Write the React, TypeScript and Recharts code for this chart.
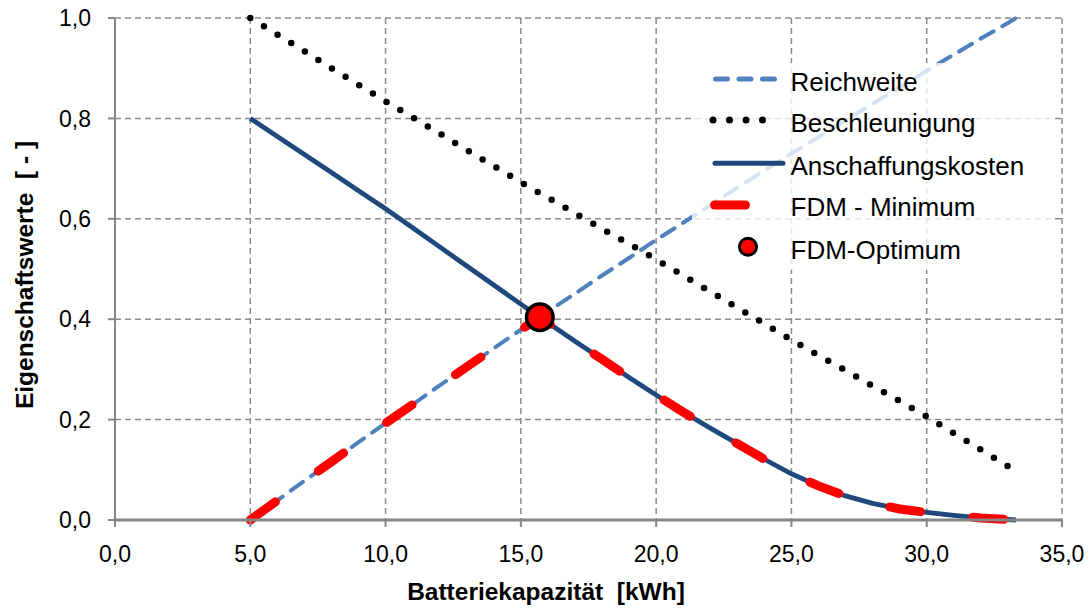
import React from "react";
import {
  ComposedChart,
  Line,
  Scatter,
  XAxis,
  YAxis,
  CartesianGrid,
} from "recharts";

const FONT = '"Liberation Sans", Arial, Helvetica, sans-serif';

// Batteriekapazität [kWh]
const kapazitaet = [
  5, 6, 7, 8, 9, 10, 11, 12, 13, 14, 15, 15.7, 16, 17, 18, 19, 20, 21, 22, 23,
  24, 25, 26, 27, 28, 29, 30, 31, 32, 33, 33.3,
];

const reichweite = [
  0, 0.039, 0.078, 0.116, 0.155, 0.193, 0.23, 0.268, 0.305, 0.342, 0.379, 0.404,
  0.415, 0.451, 0.487, 0.522, 0.558, 0.592, 0.627, 0.662, 0.696, 0.73, 0.763,
  0.796, 0.829, 0.862, 0.895, 0.927, 0.959, 0.99, 1.0,
];

const beschleunigung = [
  1.0, 0.967, 0.934, 0.9, 0.867, 0.834, 0.802, 0.77, 0.737, 0.705, 0.673, 0.651,
  0.642, 0.611, 0.58, 0.55, 0.519, 0.487, 0.455, 0.423, 0.391, 0.359, 0.328,
  0.298, 0.267, 0.237, 0.206, 0.173, 0.14, 0.107, null,
];

const anschaffungskosten = [
  0.8, 0.764, 0.728, 0.692, 0.656, 0.62, 0.582, 0.544, 0.506, 0.468, 0.43, 0.404,
  0.393, 0.356, 0.32, 0.284, 0.249, 0.215, 0.183, 0.152, 0.121, 0.092, 0.068,
  0.048, 0.033, 0.022, 0.015, 0.009, 0.004, 0.001, 0,
];

const fdmMinimum = [
  0, 0.039, 0.078, 0.116, 0.155, 0.193, 0.23, 0.268, 0.305, 0.342, 0.379, 0.404,
  0.393, 0.356, 0.32, 0.284, 0.249, 0.215, 0.183, 0.152, 0.121, 0.092, 0.068,
  0.048, 0.033, 0.022, 0.015, 0.009, 0.004, 0.001, 0,
];

const optimumX = [15.7];
const optimumY = [0.404];

const xTicks = [0, 5, 10, 15, 20, 25, 30, 35];
const yTicks = [0, 0.2, 0.4, 0.6, 0.8, 1.0];

const legendItems = [
  "Reichweite",
  "Beschleunigung",
  "Anschaffungskosten",
  "FDM - Minimum",
  "FDM-Optimum",
];

const data = kapazitaet.map((x, i) => ({
  x,
  reichweite: reichweite[i],
  beschleunigung: beschleunigung[i],
  anschaffungskosten: anschaffungskosten[i],
  fdmMinimum: fdmMinimum[i],
}));

const optimumData = optimumX.map((x, i) => ({ x, y: optimumY[i] }));

const fmt = (v: number) => v.toFixed(1).replace(".", ",");

const XTitle = () => (
  <text
    x={546}
    y={600}
    textAnchor="middle"
    fontFamily={FONT}
    fontWeight="bold"
    fontSize={24.5}
    fill="#000"
  >
    {"Batteriekapazität\u00A0 [kWh]"}
  </text>
);

const YTitle = () => (
  <text
    x={24}
    y={275}
    transform="rotate(-90, 24, 275)"
    textAnchor="middle"
    dominantBaseline="central"
    fontFamily={FONT}
    fontWeight="bold"
    fontSize={24.5}
    fill="#000"
  >
    {"Eigenschaftswerte\u00A0 [ - ]"}
  </text>
);

const OptimumDot = (props: any) => (
  <circle cx={props.cx} cy={props.cy} r={13.3} fill="#ff0000" stroke="#000" strokeWidth={3.5} />
);

function LegendBox() {
  const rowY = [18.7, 60, 103, 143.7, 187];
  return (
    <div
      style={{
        position: "absolute",
        left: 692,
        top: 63,
        width: 363,
        height: 207,
        background: "rgba(255,255,255,0.78)",
      }}
    >
      <svg width={363} height={207}>
        <line x1={23.5} y1={16} x2={82.5} y2={16} stroke="#4F81BD" strokeWidth={5} strokeDasharray="12 11.5" strokeLinecap="round" />
        <line x1={21} y1={57} x2={87} y2={57} stroke="#000" strokeWidth={7} strokeDasharray="0 16.5" strokeLinecap="round" />
        <line x1={23} y1={100.3} x2={91} y2={100.3} stroke="#1F497D" strokeWidth={5} strokeLinecap="round" />
        <line x1={22.5} y1={142} x2={53.5} y2={142} stroke="#ff0000" strokeWidth={9} strokeLinecap="round" />
        <circle cx={56} cy={183.7} r={8.5} fill="#ff0000" stroke="#000" strokeWidth={3} />
        {legendItems.map((t, i) => (
          <text
            key={t}
            x={98.5}
            y={rowY[i]}
            dominantBaseline="central"
            fontFamily={FONT}
            fontSize={26}
            fill="#000"
          >
            {t}
          </text>
        ))}
      </svg>
    </div>
  );
}

export default function App() {
  return (
    <div
      style={{
        position: "absolute",
        left: 0,
        top: 0,
        width: 1090,
        height: 608,
        background: "#fff",
        fontFamily: FONT,
      }}
    >
      <ComposedChart
        width={1090}
        height={608}
        data={data}
        margin={{ top: 18, right: 28, left: 0, bottom: 0 }}
      >
        <CartesianGrid stroke="#8a8a8a" strokeWidth={1.5} strokeDasharray="6 4" />
        <XAxis
          dataKey="x"
          type="number"
          domain={[0, 35]}
          ticks={xTicks}
          tickFormatter={fmt}
          height={88}
          axisLine={{ stroke: "#868686", strokeWidth: 3 }}
          tickLine={{ stroke: "#868686", strokeWidth: 2 }}
          tickSize={7}
          tickMargin={19}
          tick={{ fontSize: 23, fill: "#000", fontFamily: FONT }}
          label={<XTitle />}
        />
        <YAxis
          type="number"
          domain={[0, 1]}
          ticks={yTicks}
          tickFormatter={fmt}
          width={115}
          axisLine={{ stroke: "#868686", strokeWidth: 2 }}
          tickLine={{ stroke: "#868686", strokeWidth: 2 }}
          tickSize={7}
          tickMargin={17}
          tick={{ fontSize: 23, fill: "#000", fontFamily: FONT }}
          label={<YTitle />}
        />
        <Line
          dataKey="reichweite"
          type="linear"
          stroke="#4F81BD"
          strokeWidth={4}
          strokeDasharray="15 10"
          strokeLinecap="round"
          dot={false}
          activeDot={false}
          isAnimationActive={false}
        />
        <Line
          dataKey="beschleunigung"
          type="linear"
          stroke="#000"
          strokeWidth={6.5}
          strokeDasharray="0 16"
          strokeLinecap="round"
          dot={false}
          activeDot={false}
          isAnimationActive={false}
        />
        <Line
          dataKey="anschaffungskosten"
          type="linear"
          stroke="#1F497D"
          strokeWidth={4.8}
          dot={false}
          activeDot={false}
          isAnimationActive={false}
        />
        <Line
          dataKey="fdmMinimum"
          type="linear"
          stroke="#ff0000"
          strokeWidth={9}
          strokeDasharray="31 52.8"
          strokeLinecap="round"
          dot={false}
          activeDot={false}
          isAnimationActive={false}
        />
        <Scatter
          data={optimumData}
          dataKey="y"
          shape={<OptimumDot />}
          isAnimationActive={false}
        />
      </ComposedChart>
      <LegendBox />
    </div>
  );
}
